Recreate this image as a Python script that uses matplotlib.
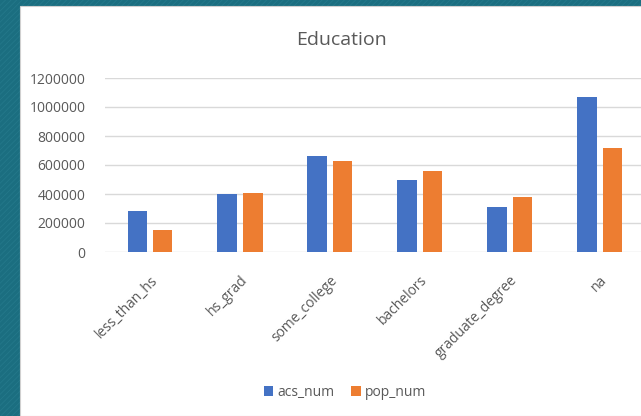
import matplotlib.pyplot as plt
from matplotlib.patches import Rectangle
import numpy as np

categories = ["less_than_hs", "hs_grad", "some_college", "bachelors",
              "graduate_degree", "na"]
acs_num = [283000, 398000, 662000, 497000, 308000, 1071000]
pop_num = [152000, 405000, 630000, 561000, 377000, 719000]
y_ticks = [0, 200000, 400000, 600000, 800000, 1000000, 1200000]

blue = "#4472c4"
orange = "#ed7d31"
grey_text = "#595959"

plt.rcParams["font.family"] = ["Open Sans", "DejaVu Sans"]
plt.rcParams["hatch.linewidth"] = 0.6

fig = plt.figure(figsize=[6.41, 4.16], dpi=100)
fig.patch.set_facecolor("#1b6e80")
# hatched teal frame behind the white chart
fig.patches.append(Rectangle((0, 0), 1, 1, transform=fig.transFigure,
                             facecolor="#1b6e80", edgecolor="#24788a",
                             hatch="//////", linewidth=0, zorder=-2))
fig.patches.append(Rectangle((20 / 641, 0), 1, 1 - 6 / 416,
                             transform=fig.transFigure, facecolor="white",
                             edgecolor="#d0d0d0", linewidth=0.8, zorder=-1))

ax = fig.add_axes([105 / 641, 164 / 416, 540 / 641, 174 / 416])
ax.set_facecolor("none")

x = np.arange(len(categories))
w = 0.22
ax.bar(x - 0.14, acs_num, w, color=blue, label="acs_num", zorder=3)
ax.bar(x + 0.14, pop_num, w, color=orange, label="pop_num", zorder=3)

ax.set_xlim(-0.5, len(categories) - 0.5)
ax.set_ylim(0, 1200000)
ax.set_yticks(y_ticks)
ax.set_yticklabels([str(v) for v in y_ticks], fontsize=10, color=grey_text)
ax.set_xticks(x)
ax.set_xticklabels(categories, rotation=45, ha="right",
                   rotation_mode="anchor", fontsize=10, color=grey_text)
ax.tick_params(axis="both", length=0)
ax.tick_params(axis="y", pad=14)
ax.tick_params(axis="x", pad=15)
ax.grid(axis="y", color="#d9d9d9", linewidth=1, zorder=0)
for s in ax.spines.values():
    s.set_visible(False)

fig.text(342 / 641, 1 - 40 / 416, "Education", fontsize=14,
         color=grey_text, ha="center", va="center")

fig.legend(loc="center", bbox_to_anchor=(345 / 641, 1 - 392 / 416),
           ncol=2, frameon=False, fontsize=10, labelcolor=grey_text,
           handlelength=0.7, handleheight=0.7, handletextpad=0.3,
           columnspacing=1.2)

plt.savefig("out.png", dpi=100, facecolor=fig.get_facecolor())
